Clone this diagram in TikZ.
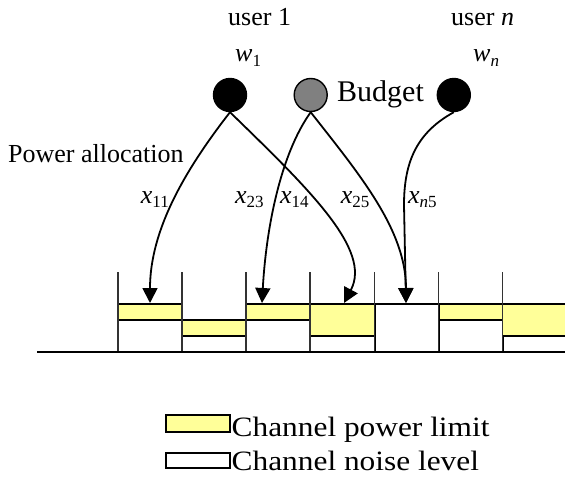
\documentclass[tikz,border=0pt]{standalone}
\usepackage{fontspec}
\setmainfont{Liberation Serif}
\newfontfamily\legfont[FakeStretch=1.12]{Liberation Serif}
\usetikzlibrary{arrows.meta}
\definecolor{limyellow}{HTML}{FFFF99}
\definecolor{budgray}{HTML}{808080}
\definecolor{sepgray}{HTML}{333333}
\newcommand{\myfs}[1]{\fontsize{#1}{#1}\selectfont}
\newcommand{\xlab}[2]{\textit{#1}\raisebox{-4.5pt}{\myfs{17}#2}}
\begin{document}
\begin{tikzpicture}[x=1pt,y=-1pt,
  usr/.style={circle,draw=black,line width=1.4pt,fill=black,minimum size=33pt,inner sep=0pt},
  bud/.style={usr,fill=budgray},
  conn/.style={line width=1.8pt,-{Triangle[length=15pt,width=15pt]}},
  lim/.style={draw=black,line width=2pt,fill=limyellow},
  noise/.style={draw=black,line width=2pt,fill=white},
  sep/.style={draw=sepgray,line width=1.8pt},
  txt/.style={inner sep=0pt,anchor=base west,font=\myfs{26}},
  legbox/.style={draw=black,line width=1.5pt},
  legtxt/.style={inner sep=0pt,anchor=base west,font=\legfont\myfs{28}}]
\path[use as bounding box] (0,0) rectangle (565,484);

% channels
\path[lim] (118,304) rectangle (182,320);
\path[noise] (118,320) rectangle (182,352);
\path[lim] (182,320) rectangle (246,336);
\path[noise] (182,336) rectangle (246,352);
\path[lim] (246,304) rectangle (310,320);
\path[noise] (246,320) rectangle (310,352);
\path[lim] (310,304) rectangle (374.5,336);
\path[noise] (310,336) rectangle (374.5,352);
\path[noise] (374.5,304) rectangle (438.5,352);
\path[lim] (438.5,304) rectangle (502.5,320);
\path[noise] (438.5,320) rectangle (502.5,352);
\fill[limyellow] (502.5,304) rectangle (565,336);
\draw[line width=2pt] (502.5,304) -- (565,304) (502.5,336) -- (565,336);
\foreach \xx in {118,182,246,310,374.5,438.5,502.5}
  \draw[sep] (\xx,272) -- (\xx,352);
\draw[line width=2pt] (37,352) -- (565,352);

% users and budget
\node[usr] (u1) at (230,95) {};
\node[bud] (bud) at (310.7,95) {};
\node[usr] (un) at (453.8,95) {};
\node[inner sep=0pt,anchor=base west,font=\myfs{30}] (budt) at (337,101.5) {Budget};
\node[txt] (user1) at (228,26) {user 1};
\node[txt] (usern) at (451,26) {user \textit{n}};
\node[txt] (w1) at (235,62) {\xlab{w}{1}};
\node[txt] (wn) at (473,62) {\xlab{w}{\textit{n}}};
\node[txt] (pa) at (8,163) {Power allocation};

% arrow tips
\coordinate (t1) at (150,303);
\coordinate (t3) at (262,303);
\coordinate (t4) at (344,303);
\coordinate (t5) at (406,303);

\draw[conn] (u1.south) .. controls (185,170) and (150,230) .. (t1);
\draw[conn] (u1.south) .. controls (310,190) and (372,250) .. (t4);
\draw[conn] (bud.south) .. controls (280,155) and (266,230) .. (t3);
\draw[conn] (bud.south) .. controls (360,175) and (406,230) .. (t5);
\draw[conn] (un.south) .. controls (418,132) and (404,160) .. (404,205) -- (t5);

% labels
\node[txt] (l11) at (140.7,203) {\xlab{x}{11}};
\node[txt] (l23) at (235,203) {\xlab{x}{23}};
\node[txt] (l14) at (280,203) {\xlab{x}{14}};
\node[txt] (l25) at (340.7,203) {\xlab{x}{25}};
\node[txt] (ln5) at (408,203) {\xlab{x}{\textit{n}5}};

% legend
\path[legbox,fill=limyellow] (166,415) rectangle (230,432);
\path[legbox,fill=white] (166,453) rectangle (230,468);
\node[legtxt] (leg1) at (231.5,436) {Channel power limit};
\node[legtxt] (leg2) at (231.5,470.5) {Channel noise level};
\end{tikzpicture}
\end{document}
